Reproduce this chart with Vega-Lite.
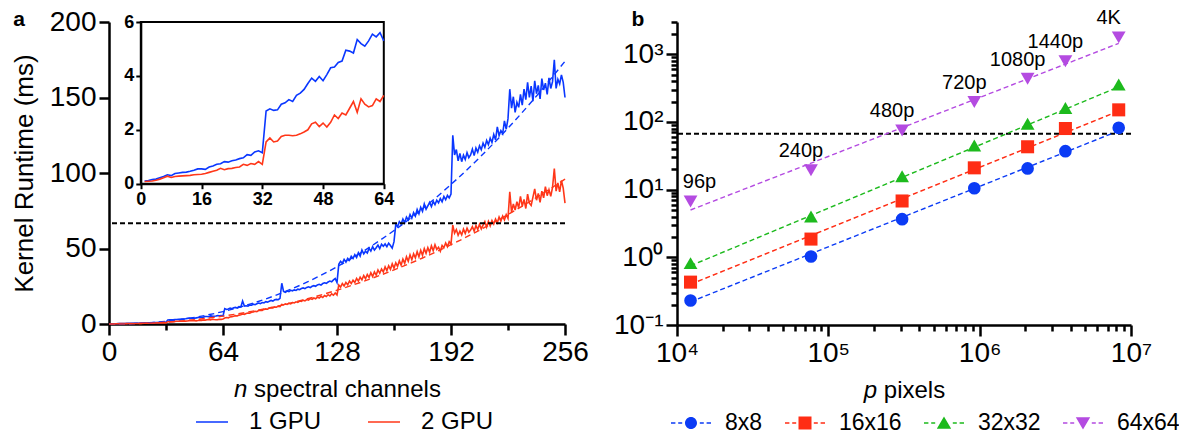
{
  "$schema": "https://vega.github.io/schema/vega-lite/v6.json",
  "padding": {"left": 11, "top": 8, "right": 0, "bottom": 0},
  "config": {
    "font": "Liberation Sans",
    "view": {"stroke": null},
    "axis": {"grid": false, "domainColor": "#000", "tickColor": "#000", "labelColor": "#000", "titleColor": "#000", "titleFontWeight": "normal", "labelFlush": false, "labelOverlap": false},
    "legend": {"labelColor": "#000"},
    "title": {"color": "#000"}
  },
  "datasets": {
    "spectral": [
      {"n":1,"1 GPU":0.10,"2 GPU":0.08},{"n":2,"1 GPU":0.12,"2 GPU":0.09},{"n":3,"1 GPU":0.15,"2 GPU":0.10},{"n":4,"1 GPU":0.17,"2 GPU":0.13},
      {"n":5,"1 GPU":0.22,"2 GPU":0.17},{"n":6,"1 GPU":0.27,"2 GPU":0.22},{"n":7,"1 GPU":0.33,"2 GPU":0.28},{"n":8,"1 GPU":0.30,"2 GPU":0.23},
      {"n":9,"1 GPU":0.38,"2 GPU":0.27},{"n":10,"1 GPU":0.40,"2 GPU":0.28},{"n":11,"1 GPU":0.42,"2 GPU":0.29},{"n":12,"1 GPU":0.43,"2 GPU":0.30},
      {"n":13,"1 GPU":0.46,"2 GPU":0.31},{"n":14,"1 GPU":0.50,"2 GPU":0.33},{"n":15,"1 GPU":0.55,"2 GPU":0.34},{"n":16,"1 GPU":0.55,"2 GPU":0.35},
      {"n":17,"1 GPU":0.53,"2 GPU":0.38},{"n":18,"1 GPU":0.62,"2 GPU":0.42},{"n":19,"1 GPU":0.66,"2 GPU":0.46},{"n":20,"1 GPU":0.72,"2 GPU":0.50},
      {"n":21,"1 GPU":0.74,"2 GPU":0.57},{"n":22,"1 GPU":0.82,"2 GPU":0.52},{"n":23,"1 GPU":0.80,"2 GPU":0.56},{"n":24,"1 GPU":0.85,"2 GPU":0.57},
      {"n":25,"1 GPU":0.88,"2 GPU":0.60},{"n":26,"1 GPU":0.93,"2 GPU":0.62},{"n":27,"1 GPU":0.96,"2 GPU":0.72},{"n":28,"1 GPU":1.08,"2 GPU":0.68},
      {"n":29,"1 GPU":1.05,"2 GPU":0.75},{"n":30,"1 GPU":1.18,"2 GPU":0.72},{"n":31,"1 GPU":1.22,"2 GPU":0.82},{"n":32,"1 GPU":1.15,"2 GPU":0.72},
      {"n":33,"1 GPU":2.70,"2 GPU":1.55},{"n":34,"1 GPU":2.78,"2 GPU":1.70},{"n":35,"1 GPU":2.72,"2 GPU":1.55},{"n":36,"1 GPU":2.74,"2 GPU":1.58},
      {"n":37,"1 GPU":2.95,"2 GPU":1.75},{"n":38,"1 GPU":3.00,"2 GPU":1.80},{"n":39,"1 GPU":3.12,"2 GPU":1.80},{"n":40,"1 GPU":3.05,"2 GPU":1.78},
      {"n":41,"1 GPU":3.28,"2 GPU":1.80},{"n":42,"1 GPU":3.36,"2 GPU":1.85},{"n":43,"1 GPU":3.50,"2 GPU":1.92},{"n":44,"1 GPU":3.72,"2 GPU":2.00},
      {"n":45,"1 GPU":3.92,"2 GPU":2.22},{"n":46,"1 GPU":3.80,"2 GPU":2.28},{"n":47,"1 GPU":3.98,"2 GPU":2.12},{"n":48,"1 GPU":3.82,"2 GPU":2.25},
      {"n":49,"1 GPU":4.05,"2 GPU":2.10},{"n":50,"1 GPU":4.30,"2 GPU":2.28},{"n":51,"1 GPU":4.33,"2 GPU":2.55},{"n":52,"1 GPU":4.50,"2 GPU":2.42},
      {"n":53,"1 GPU":4.55,"2 GPU":2.62},{"n":54,"1 GPU":4.95,"2 GPU":2.55},{"n":55,"1 GPU":4.92,"2 GPU":2.80},{"n":56,"1 GPU":4.85,"2 GPU":3.05},
      {"n":57,"1 GPU":5.35,"2 GPU":2.65},{"n":58,"1 GPU":5.20,"2 GPU":3.15},{"n":59,"1 GPU":5.10,"2 GPU":2.95},{"n":60,"1 GPU":5.30,"2 GPU":2.85},
      {"n":61,"1 GPU":5.55,"2 GPU":2.90},{"n":62,"1 GPU":5.45,"2 GPU":3.15},{"n":63,"1 GPU":5.60,"2 GPU":3.05},{"n":64,"1 GPU":5.30,"2 GPU":3.28},
      {"n":65,"1 GPU":10.2,"2 GPU":4.0},{"n":66,"1 GPU":9.6,"2 GPU":4.3},{"n":67,"1 GPU":9.9,"2 GPU":4.1},{"n":68,"1 GPU":10.5,"2 GPU":4.7},
      {"n":69,"1 GPU":10.1,"2 GPU":4.9},{"n":70,"1 GPU":10.8,"2 GPU":5.1},{"n":71,"1 GPU":11.0,"2 GPU":5.5},{"n":72,"1 GPU":10.6,"2 GPU":5.3},
      {"n":73,"1 GPU":11.5,"2 GPU":5.9},{"n":74,"1 GPU":11.2,"2 GPU":6.1},{"n":75,"1 GPU":15.2,"2 GPU":6.6},{"n":76,"1 GPU":11.9,"2 GPU":6.4},
      {"n":77,"1 GPU":12.1,"2 GPU":7.0},{"n":78,"1 GPU":11.8,"2 GPU":7.3},{"n":79,"1 GPU":12.6,"2 GPU":7.1},{"n":80,"1 GPU":12.4,"2 GPU":7.8},
      {"n":81,"1 GPU":13.1,"2 GPU":8.0},{"n":82,"1 GPU":12.8,"2 GPU":8.4},{"n":83,"1 GPU":13.4,"2 GPU":8.2},{"n":84,"1 GPU":13.9,"2 GPU":8.9},
      {"n":85,"1 GPU":13.5,"2 GPU":9.2},{"n":86,"1 GPU":14.2,"2 GPU":9.0},{"n":87,"1 GPU":14.0,"2 GPU":9.7},{"n":88,"1 GPU":14.8,"2 GPU":10.0},
      {"n":89,"1 GPU":14.5,"2 GPU":9.8},{"n":90,"1 GPU":15.1,"2 GPU":10.5},{"n":91,"1 GPU":15.6,"2 GPU":10.8},{"n":92,"1 GPU":15.2,"2 GPU":10.6},
      {"n":93,"1 GPU":16.0,"2 GPU":11.3},{"n":94,"1 GPU":16.3,"2 GPU":11.1},{"n":95,"1 GPU":16.1,"2 GPU":11.8},{"n":96,"1 GPU":17.0,"2 GPU":11.5},
      {"n":97,"1 GPU":27.0,"2 GPU":13.0},{"n":98,"1 GPU":21.5,"2 GPU":12.6},{"n":99,"1 GPU":21.0,"2 GPU":13.3},{"n":100,"1 GPU":21.8,"2 GPU":13.0},
      {"n":101,"1 GPU":21.4,"2 GPU":13.8},{"n":102,"1 GPU":22.3,"2 GPU":13.4},{"n":103,"1 GPU":22.0,"2 GPU":14.2},{"n":104,"1 GPU":22.6,"2 GPU":13.9},
      {"n":105,"1 GPU":22.2,"2 GPU":14.7},{"n":106,"1 GPU":23.1,"2 GPU":14.3},{"n":107,"1 GPU":22.8,"2 GPU":15.2},{"n":108,"1 GPU":23.5,"2 GPU":14.9},
      {"n":109,"1 GPU":23.9,"2 GPU":15.8},{"n":110,"1 GPU":23.4,"2 GPU":15.3},{"n":111,"1 GPU":24.2,"2 GPU":16.2},{"n":112,"1 GPU":24.6,"2 GPU":15.8},
      {"n":113,"1 GPU":24.1,"2 GPU":16.8},{"n":114,"1 GPU":25.0,"2 GPU":16.3},{"n":115,"1 GPU":25.4,"2 GPU":17.2},{"n":116,"1 GPU":25.0,"2 GPU":16.7},
      {"n":117,"1 GPU":25.9,"2 GPU":17.8},{"n":118,"1 GPU":26.3,"2 GPU":17.2},{"n":119,"1 GPU":25.8,"2 GPU":18.3},{"n":120,"1 GPU":26.8,"2 GPU":17.6},
      {"n":121,"1 GPU":27.3,"2 GPU":18.9},{"n":122,"1 GPU":26.9,"2 GPU":18.2},{"n":123,"1 GPU":27.8,"2 GPU":19.4},{"n":124,"1 GPU":28.4,"2 GPU":18.6},
      {"n":125,"1 GPU":28.0,"2 GPU":20.0},{"n":126,"1 GPU":29.2,"2 GPU":19.1},{"n":127,"1 GPU":30.1,"2 GPU":20.5},{"n":128,"1 GPU":27.5,"2 GPU":19.2},
      {"n":129,"1 GPU":39.5,"2 GPU":25.8},{"n":130,"1 GPU":41.5,"2 GPU":24.5},{"n":131,"1 GPU":40.2,"2 GPU":26.8},{"n":132,"1 GPU":42.8,"2 GPU":25.2},
      {"n":133,"1 GPU":41.0,"2 GPU":27.5},{"n":134,"1 GPU":43.5,"2 GPU":26.0},{"n":135,"1 GPU":42.2,"2 GPU":28.4},{"n":136,"1 GPU":44.8,"2 GPU":26.8},
      {"n":137,"1 GPU":43.4,"2 GPU":29.0},{"n":138,"1 GPU":45.9,"2 GPU":27.5},{"n":139,"1 GPU":44.1,"2 GPU":30.2},{"n":140,"1 GPU":47.2,"2 GPU":28.4},
      {"n":141,"1 GPU":45.0,"2 GPU":31.0},{"n":142,"1 GPU":49.0,"2 GPU":29.2},{"n":143,"1 GPU":46.5,"2 GPU":32.1},{"n":144,"1 GPU":48.2,"2 GPU":30.0},
      {"n":145,"1 GPU":47.0,"2 GPU":32.8},{"n":146,"1 GPU":50.1,"2 GPU":30.8},{"n":147,"1 GPU":48.3,"2 GPU":33.9},{"n":148,"1 GPU":51.2,"2 GPU":31.5},
      {"n":149,"1 GPU":49.0,"2 GPU":34.5},{"n":150,"1 GPU":50.5,"2 GPU":32.4},{"n":151,"1 GPU":52.3,"2 GPU":35.8},{"n":152,"1 GPU":50.0,"2 GPU":33.6},
      {"n":153,"1 GPU":52.8,"2 GPU":36.4},{"n":154,"1 GPU":51.5,"2 GPU":34.5},{"n":155,"1 GPU":53.0,"2 GPU":37.8},{"n":156,"1 GPU":51.2,"2 GPU":35.3},
      {"n":157,"1 GPU":53.5,"2 GPU":38.6},{"n":158,"1 GPU":52.0,"2 GPU":36.2},{"n":159,"1 GPU":50.2,"2 GPU":39.8},{"n":160,"1 GPU":54.5,"2 GPU":37.0},
      {"n":161,"1 GPU":66.0,"2 GPU":40.5},{"n":162,"1 GPU":64.5,"2 GPU":38.2},{"n":163,"1 GPU":67.8,"2 GPU":41.8},{"n":164,"1 GPU":66.2,"2 GPU":39.0},
      {"n":165,"1 GPU":69.5,"2 GPU":43.0},{"n":166,"1 GPU":67.0,"2 GPU":40.2},{"n":167,"1 GPU":70.8,"2 GPU":44.5},{"n":168,"1 GPU":68.9,"2 GPU":41.5},
      {"n":169,"1 GPU":72.5,"2 GPU":45.8},{"n":170,"1 GPU":70.1,"2 GPU":42.6},{"n":171,"1 GPU":73.8,"2 GPU":46.5},{"n":172,"1 GPU":71.5,"2 GPU":43.8},
      {"n":173,"1 GPU":75.9,"2 GPU":47.9},{"n":174,"1 GPU":73.0,"2 GPU":44.5},{"n":175,"1 GPU":77.2,"2 GPU":48.8},{"n":176,"1 GPU":74.6,"2 GPU":45.5},
      {"n":177,"1 GPU":79.5,"2 GPU":49.9},{"n":178,"1 GPU":76.0,"2 GPU":46.8},{"n":179,"1 GPU":78.3,"2 GPU":50.6},{"n":180,"1 GPU":80.5,"2 GPU":47.5},
      {"n":181,"1 GPU":77.8,"2 GPU":51.8},{"n":182,"1 GPU":81.2,"2 GPU":48.6},{"n":183,"1 GPU":79.0,"2 GPU":52.5},{"n":184,"1 GPU":82.0,"2 GPU":49.4},
      {"n":185,"1 GPU":80.2,"2 GPU":50.8},{"n":186,"1 GPU":83.1,"2 GPU":48.2},{"n":187,"1 GPU":81.0,"2 GPU":52.0},{"n":188,"1 GPU":84.5,"2 GPU":50.5},
      {"n":189,"1 GPU":82.3,"2 GPU":53.6},{"n":190,"1 GPU":85.2,"2 GPU":51.2},{"n":191,"1 GPU":83.5,"2 GPU":54.5},{"n":192,"1 GPU":86.0,"2 GPU":53.0},
      {"n":193,"1 GPU":125.0,"2 GPU":65.5},{"n":194,"1 GPU":112.0,"2 GPU":60.2},{"n":195,"1 GPU":115.5,"2 GPU":62.5},{"n":196,"1 GPU":108.0,"2 GPU":58.8},
      {"n":197,"1 GPU":113.0,"2 GPU":61.5},{"n":198,"1 GPU":107.5,"2 GPU":59.0},{"n":199,"1 GPU":111.8,"2 GPU":62.8},{"n":200,"1 GPU":109.0,"2 GPU":60.0},
      {"n":201,"1 GPU":113.5,"2 GPU":63.5},{"n":202,"1 GPU":110.2,"2 GPU":60.8},{"n":203,"1 GPU":112.0,"2 GPU":62.2},{"n":204,"1 GPU":115.8,"2 GPU":64.5},
      {"n":205,"1 GPU":111.5,"2 GPU":61.5},{"n":206,"1 GPU":116.5,"2 GPU":65.2},{"n":207,"1 GPU":113.8,"2 GPU":62.5},{"n":208,"1 GPU":118.0,"2 GPU":66.0},
      {"n":209,"1 GPU":115.5,"2 GPU":63.0},{"n":210,"1 GPU":119.8,"2 GPU":65.5},{"n":211,"1 GPU":117.0,"2 GPU":67.8},{"n":212,"1 GPU":121.5,"2 GPU":64.2},
      {"n":213,"1 GPU":118.8,"2 GPU":68.0},{"n":214,"1 GPU":123.0,"2 GPU":65.0},{"n":215,"1 GPU":120.2,"2 GPU":68.5},{"n":216,"1 GPU":125.5,"2 GPU":66.2},
      {"n":217,"1 GPU":122.0,"2 GPU":69.5},{"n":218,"1 GPU":130.5,"2 GPU":67.0},{"n":219,"1 GPU":124.8,"2 GPU":70.8},{"n":220,"1 GPU":128.0,"2 GPU":68.2},
      {"n":221,"1 GPU":126.0,"2 GPU":71.5},{"n":222,"1 GPU":134.5,"2 GPU":69.0},{"n":223,"1 GPU":129.0,"2 GPU":72.5},{"n":224,"1 GPU":136.0,"2 GPU":70.0},
      {"n":225,"1 GPU":155.5,"2 GPU":87.5},{"n":226,"1 GPU":143.0,"2 GPU":74.0},{"n":227,"1 GPU":150.5,"2 GPU":79.5},{"n":228,"1 GPU":140.2,"2 GPU":75.5},
      {"n":229,"1 GPU":146.8,"2 GPU":81.0},{"n":230,"1 GPU":143.5,"2 GPU":77.0},{"n":231,"1 GPU":152.0,"2 GPU":84.5},{"n":232,"1 GPU":145.0,"2 GPU":78.0},
      {"n":233,"1 GPU":155.5,"2 GPU":82.5},{"n":234,"1 GPU":148.6,"2 GPU":76.5},{"n":235,"1 GPU":160.0,"2 GPU":86.0},{"n":236,"1 GPU":150.0,"2 GPU":80.0},
      {"n":237,"1 GPU":157.5,"2 GPU":78.5},{"n":238,"1 GPU":147.5,"2 GPU":84.0},{"n":239,"1 GPU":161.0,"2 GPU":89.5},{"n":240,"1 GPU":152.5,"2 GPU":82.0},
      {"n":241,"1 GPU":158.0,"2 GPU":86.5},{"n":242,"1 GPU":149.0,"2 GPU":80.5},{"n":243,"1 GPU":162.5,"2 GPU":88.0},{"n":244,"1 GPU":155.0,"2 GPU":83.5},
      {"n":245,"1 GPU":159.5,"2 GPU":91.0},{"n":246,"1 GPU":152.0,"2 GPU":85.0},{"n":247,"1 GPU":163.0,"2 GPU":89.0},{"n":248,"1 GPU":156.0,"2 GPU":84.5},
      {"n":249,"1 GPU":160.5,"2 GPU":90.5},{"n":250,"1 GPU":175.0,"2 GPU":103.0},{"n":251,"1 GPU":156.0,"2 GPU":88.0},{"n":252,"1 GPU":162.0,"2 GPU":93.5},
      {"n":253,"1 GPU":159.0,"2 GPU":87.5},{"n":254,"1 GPU":165.0,"2 GPU":95.0},{"n":255,"1 GPU":160.0,"2 GPU":90.0},{"n":256,"1 GPU":150.0,"2 GPU":80.0}
    ],
    "spectralFit": [
      {"n":0,"1 GPU":0,"2 GPU":0},{"n":16,"1 GPU":0.39,"2 GPU":0.28},{"n":32,"1 GPU":1.79,"2 GPU":1.22},{"n":48,"1 GPU":4.38,"2 GPU":2.85},
      {"n":64,"1 GPU":8.24,"2 GPU":5.22},{"n":80,"1 GPU":13.47,"2 GPU":8.34},{"n":96,"1 GPU":20.1,"2 GPU":12.2},{"n":112,"1 GPU":28.2,"2 GPU":16.9},
      {"n":128,"1 GPU":37.9,"2 GPU":22.4},{"n":144,"1 GPU":49.1,"2 GPU":28.7},{"n":160,"1 GPU":61.9,"2 GPU":35.8},{"n":176,"1 GPU":76.3,"2 GPU":43.7},
      {"n":192,"1 GPU":92.4,"2 GPU":52.5},{"n":208,"1 GPU":110.2,"2 GPU":62.1},{"n":224,"1 GPU":129.7,"2 GPU":72.5},{"n":240,"1 GPU":151.0,"2 GPU":83.8},
      {"n":256,"1 GPU":174.0,"2 GPU":96.0}
    ],
    "pixels": [
      {"p":12288,"res":"96p","block":"8x8","ms":0.23},{"p":76800,"res":"240p","block":"8x8","ms":1.03},{"p":307200,"res":"480p","block":"8x8","ms":3.66},
      {"p":921600,"res":"720p","block":"8x8","ms":10.5},{"p":2073600,"res":"1080p","block":"8x8","ms":20.6},{"p":3686400,"res":"1440p","block":"8x8","ms":37},
      {"p":8294400,"res":"4K","block":"8x8","ms":82},
      {"p":12288,"res":"96p","block":"16x16","ms":0.43},{"p":76800,"res":"240p","block":"16x16","ms":1.86},{"p":307200,"res":"480p","block":"16x16","ms":6.8},
      {"p":921600,"res":"720p","block":"16x16","ms":21},{"p":2073600,"res":"1080p","block":"16x16","ms":43},{"p":3686400,"res":"1440p","block":"16x16","ms":80},
      {"p":8294400,"res":"4K","block":"16x16","ms":151},
      {"p":12288,"res":"96p","block":"32x32","ms":0.82},{"p":76800,"res":"240p","block":"32x32","ms":4.0},{"p":307200,"res":"480p","block":"32x32","ms":15.8},
      {"p":921600,"res":"720p","block":"32x32","ms":45},{"p":2073600,"res":"1080p","block":"32x32","ms":94},{"p":3686400,"res":"1440p","block":"32x32","ms":161},
      {"p":8294400,"res":"4K","block":"32x32","ms":357},
      {"p":12288,"res":"96p","block":"64x64","ms":6.7},{"p":76800,"res":"240p","block":"64x64","ms":19.4},{"p":307200,"res":"480p","block":"64x64","ms":75},
      {"p":921600,"res":"720p","block":"64x64","ms":197},{"p":2073600,"res":"1080p","block":"64x64","ms":434},{"p":3686400,"res":"1440p","block":"64x64","ms":789},
      {"p":8294400,"res":"4K","block":"64x64","ms":1778}
    ],
    "pixelsFit": [
      {"p":12288,"block":"8x8","ms":0.22},{"p":8294400,"block":"8x8","ms":74},
      {"p":12288,"block":"16x16","ms":0.40},{"p":8294400,"block":"16x16","ms":145},
      {"p":12288,"block":"32x32","ms":0.75},{"p":8294400,"block":"32x32","ms":330},
      {"p":12288,"block":"64x64","ms":5.0},{"p":8294400,"block":"64x64","ms":1450}
    ]
  },
  "hconcat": [
    {
      "width": 456,
      "height": 302,
      "title": {"text": "a", "anchor": "start", "fontSize": 21, "fontWeight": "bold", "offset": -22, "dx": 2},
      "layer": [
        {
          "layer": [
            {
              "data": {"name": "spectral"},
              "transform": [{"fold": ["1 GPU", "2 GPU"], "as": ["series", "ms"]}],
              "mark": {"type": "line", "strokeWidth": 1.6},
              "encoding": {
                "x": {
                  "field": "n", "type": "quantitative",
                  "scale": {"domain": [0, 256], "nice": false, "zero": false},
                  "axis": {
                    "orient": "bottom",
                    "values": [0, 32, 64, 96, 128, 160, 192, 224, 256],
                    "labelExpr": "datum.value % 64 === 0 ? datum.label : ''",
                    "tickSize": {"condition": {"test": "datum.value % 64 === 0", "value": 11}, "value": 6},
                    "tickWidth": 2.5, "domainWidth": 2.5,
                    "labelFontSize": 28, "labelPadding": 3,
                    "title": "n", "titleFontStyle": "italic", "titleFontSize": 24,
                    "titleX": 124.6, "titleY": 72, "titleAlign": "left", "titleBaseline": "alphabetic"
                  }
                },
                "y": {
                  "field": "ms", "type": "quantitative",
                  "scale": {"domain": [0, 200], "nice": false},
                  "axis": {
                    "orient": "left", "values": [0, 50, 100, 150, 200],
                    "tickSize": 10, "tickWidth": 2.5, "domainWidth": 2.5,
                    "labelFontSize": 28, "labelPadding": 3,
                    "title": "Kernel Runtime (ms)", "titleFontSize": 26, "titlePadding": 12
                  }
                },
                "color": {
                  "field": "series", "type": "nominal",
                  "scale": {"domain": ["1 GPU", "2 GPU"], "range": ["#0A37FF", "#FF3719"]},
                  "legend": {
                    "orient": "none", "legendX": 86, "legendY": 383, "direction": "horizontal", "title": null,
                    "symbolType": "stroke", "symbolSize": 1024, "symbolStrokeWidth": 1.5,
                    "labelFontSize": 24, "labelOffset": 20, "columnPadding": 43
                  }
                }
              }
            },
            {
              "data": {"name": "spectralFit"},
              "transform": [{"fold": ["1 GPU", "2 GPU"], "as": ["series", "ms"]}],
              "mark": {"type": "line", "strokeWidth": 1.4, "strokeDash": [6, 4], "interpolate": "monotone"},
              "encoding": {
                "x": {
                  "field": "n", "type": "quantitative",
                  "axis": {
                    "orient": "bottom", "domain": false, "ticks": false, "labels": false,
                    "title": "spectral channels", "titleFontSize": 24,
                    "titleX": 238, "titleY": 72, "titleAlign": "center", "titleBaseline": "alphabetic"
                  }
                },
                "y": {"field": "ms", "type": "quantitative", "axis": null},
                "color": {"field": "series", "type": "nominal", "legend": null}
              }
            },
            {
              "data": {"values": [{}]},
              "mark": {"type": "rule", "strokeWidth": 2, "strokeDash": [5, 3], "color": "#000"},
              "encoding": {"y": {"datum": 66.7, "type": "quantitative", "axis": null}}
            }
          ],
          "resolve": {"axis": {"x": "independent", "y": "independent"}}
        },
        {
          "layer": [
            {
              "data": {"values": [{}]},
              "mark": {"type": "rect", "filled": false, "stroke": "#000", "strokeWidth": 2},
              "encoding": {
                "x": {"datum": 0, "type": "quantitative", "axis": null},
                "x2": {"datum": 64},
                "y": {"datum": 0, "type": "quantitative", "axis": null},
                "y2": {"datum": 6}
              }
            },
            {
              "data": {"name": "spectral"},
              "transform": [{"filter": "datum.n <= 64"}, {"fold": ["1 GPU", "2 GPU"], "as": ["series", "ms"]}],
              "mark": {"type": "line", "strokeWidth": 1.6},
              "encoding": {
                "x": {
                  "field": "n", "type": "quantitative",
                  "scale": {"domain": [0, 64], "range": [31.8, 274.8], "nice": false, "zero": false},
                  "axis": {
                    "orient": "bottom", "offset": -140.3, "values": [0, 16, 32, 48, 64],
                    "tickSize": 5, "tickWidth": 2, "domainWidth": 2,
                    "labelFontSize": 18, "labelFontWeight": "bold", "labelPadding": 2,
                    "title": null, "zindex": 1
                  }
                },
                "y": {
                  "field": "ms", "type": "quantitative",
                  "scale": {"domain": [0, 6], "range": [161.7, 0], "nice": false},
                  "axis": {
                    "orient": "left", "offset": -31.8, "values": [0, 2, 4, 6],
                    "tickSize": 5, "tickWidth": 2, "domainWidth": 2,
                    "labelFontSize": 18, "labelFontWeight": "bold", "labelPadding": 2,
                    "title": null, "zindex": 1
                  }
                },
                "color": {"field": "series", "type": "nominal", "legend": null}
              }
            }
          ],
          "resolve": {"axis": {"x": "independent", "y": "independent"}}
        }
      ],
      "resolve": {"scale": {"x": "independent", "y": "independent"}}
    },
    {
      "width": 454,
      "height": 303,
      "title": {"text": "b", "anchor": "start", "fontSize": 21, "fontWeight": "bold", "offset": -22, "dx": 18},
      "layer": [
        {
          "data": {"name": "pixels"},
          "transform": [{"filter": "false"}],
          "mark": {"type": "point", "filled": true, "opacity": 1},
          "encoding": {
            "x": {
              "field": "p", "type": "quantitative",
              "scale": {"type": "log", "domain": [10000, 10000000], "nice": false},
              "axis": {
                "orient": "bottom",
                "values": [10000, 20000, 30000, 40000, 50000, 60000, 70000, 80000, 90000, 100000, 200000, 300000, 400000, 500000, 600000, 700000, 800000, 900000, 1000000, 2000000, 3000000, 4000000, 5000000, 6000000, 7000000, 8000000, 9000000, 10000000],
                "labelExpr": "abs(log(datum.value)/LN10 - round(log(datum.value)/LN10)) < 0.000001 ? '10' + (datum.value < 50000 ? '⁴' : datum.value < 500000 ? '⁵' : datum.value < 5000000 ? '⁶' : '⁷') : ''",
                "tickSize": {"condition": {"test": "abs(log(datum.value)/LN10 - round(log(datum.value)/LN10)) < 0.000001", "value": 11}, "value": 6},
                "tickWidth": 2.5, "domainWidth": 2.5,
                "labelFontSize": 28, "labelPadding": 3,
                "title": "p", "titleFontStyle": "italic", "titleFontSize": 24,
                "titleX": 186.3, "titleY": 72, "titleAlign": "left", "titleBaseline": "alphabetic"
              }
            },
            "y": {
              "field": "ms", "type": "quantitative",
              "scale": {"type": "log", "domain": [0.1, 3000], "nice": false},
              "axis": {
                "orient": "left",
                "values": [0.1, 0.2, 0.3, 0.4, 0.5, 0.6, 0.7, 0.8, 0.9, 1, 2, 3, 4, 5, 6, 7, 8, 9, 10, 20, 30, 40, 50, 60, 70, 80, 90, 100, 200, 300, 400, 500, 600, 700, 800, 900, 1000, 2000, 3000],
                "labelExpr": "abs(log(datum.value)/LN10 - round(log(datum.value)/LN10)) < 0.000001 ? '10' + (datum.value < 0.5 ? '⁻¹' : datum.value < 5 ? '⁰' : datum.value < 50 ? '¹' : datum.value < 500 ? '²' : '³') : ''",
                "tickSize": {"condition": {"test": "abs(log(datum.value)/LN10 - round(log(datum.value)/LN10)) < 0.000001", "value": 11}, "value": 6},
                "tickWidth": 2.5, "domainWidth": 2.5,
                "labelFontSize": 28, "labelPadding": 3,
                "title": null
              }
            },
            "color": {
              "field": "block", "type": "nominal",
              "scale": {"domain": ["8x8", "16x16", "32x32", "64x64"], "range": ["#0B3BF5", "#FF2D14", "#1DBA1D", "#B44BE1"]},
              "legend": {
                "orient": "none", "legendX": -6, "legendY": 381, "direction": "horizontal", "title": null,
                "symbolSize": 1600, "symbolStrokeWidth": 0,
                "labelFontSize": 23, "labelOffset": 14, "columnPadding": 22
              }
            },
            "shape": {
              "field": "block", "type": "nominal",
              "scale": {
                "domain": ["8x8", "16x16", "32x32", "64x64"],
                "range": [
                  "M-1,-0.04H-0.78V0.04H-1Z M-0.64,-0.04H-0.44V0.04H-0.64Z M0.44,-0.04H0.64V0.04H0.44Z M0.78,-0.04H1V0.04H0.78Z M0.3,0A0.3,0.3,0,1,1,-0.3,0A0.3,0.3,0,1,1,0.3,0Z",
                  "M-1,-0.04H-0.78V0.04H-1Z M-0.64,-0.04H-0.44V0.04H-0.64Z M0.44,-0.04H0.64V0.04H0.44Z M0.78,-0.04H1V0.04H0.78Z M-0.325,-0.325H0.325V0.325H-0.325Z",
                  "M-1,-0.04H-0.78V0.04H-1Z M-0.64,-0.04H-0.44V0.04H-0.64Z M0.44,-0.04H0.64V0.04H0.44Z M0.78,-0.04H1V0.04H0.78Z M0,-0.33L0.36,0.29L-0.36,0.29Z",
                  "M-1,-0.04H-0.78V0.04H-1Z M-0.64,-0.04H-0.44V0.04H-0.64Z M0.44,-0.04H0.64V0.04H0.44Z M0.78,-0.04H1V0.04H0.78Z M0,0.33L0.36,-0.29L-0.36,-0.29Z"
                ]
              },
              "legend": {
                "orient": "none", "legendX": -6, "legendY": 381, "direction": "horizontal", "title": null,
                "symbolSize": 1600, "symbolStrokeWidth": 0,
                "labelFontSize": 23, "labelOffset": 14, "columnPadding": 22
              }
            }
          }
        },
        {
          "data": {"values": [{}]},
          "mark": {"type": "rule", "strokeWidth": 2, "strokeDash": [5, 3], "color": "#000"},
          "encoding": {"y": {"datum": 66.7, "type": "quantitative", "axis": null}}
        },
        {
          "data": {"name": "pixelsFit"},
          "mark": {"type": "line", "strokeWidth": 1.4, "strokeDash": [5, 3]},
          "encoding": {
            "x": {
              "field": "p", "type": "quantitative",
              "axis": {
                "orient": "bottom", "domain": false, "ticks": false, "labels": false,
                "title": "pixels", "titleFontSize": 24,
                "titleX": 237, "titleY": 72, "titleAlign": "center", "titleBaseline": "alphabetic"
              }
            },
            "y": {"field": "ms", "type": "quantitative", "axis": null},
            "color": {"field": "block", "type": "nominal", "legend": null}
          }
        },
        {
          "data": {"name": "pixels"},
          "transform": [{"filter": "datum.block === '8x8'"}],
          "mark": {"type": "point", "shape": "circle", "filled": true, "opacity": 1, "size": 160},
          "encoding": {
            "x": {"field": "p", "type": "quantitative", "axis": null},
            "y": {"field": "ms", "type": "quantitative", "axis": null},
            "color": {"field": "block", "type": "nominal", "legend": null}
          }
        },
        {
          "data": {"name": "pixels"},
          "transform": [{"filter": "datum.block === '16x16'"}],
          "mark": {"type": "point", "shape": "square", "filled": true, "opacity": 1, "size": 170},
          "encoding": {
            "x": {"field": "p", "type": "quantitative", "axis": null},
            "y": {"field": "ms", "type": "quantitative", "axis": null},
            "color": {"field": "block", "type": "nominal", "legend": null}
          }
        },
        {
          "data": {"name": "pixels"},
          "transform": [{"filter": "datum.block === '32x32'"}],
          "mark": {"type": "point", "shape": "triangle-up", "filled": true, "opacity": 1, "size": 190},
          "encoding": {
            "x": {"field": "p", "type": "quantitative", "axis": null},
            "y": {"field": "ms", "type": "quantitative", "axis": null},
            "color": {"field": "block", "type": "nominal", "legend": null}
          }
        },
        {
          "data": {"name": "pixels"},
          "transform": [{"filter": "datum.block === '64x64'"}],
          "mark": {"type": "point", "shape": "triangle-down", "filled": true, "opacity": 1, "size": 190},
          "encoding": {
            "x": {"field": "p", "type": "quantitative", "axis": null},
            "y": {"field": "ms", "type": "quantitative", "axis": null},
            "color": {"field": "block", "type": "nominal", "legend": null}
          }
        },
        {
          "data": {"name": "pixels"},
          "transform": [{"filter": "datum.block === '64x64' && datum.res !== '96p'"}],
          "mark": {"type": "text", "fontSize": 20, "dy": -19, "dx": -10, "align": "center", "baseline": "middle", "color": "#000"},
          "encoding": {
            "x": {"field": "p", "type": "quantitative", "axis": null},
            "y": {"field": "ms", "type": "quantitative", "axis": null},
            "text": {"field": "res", "type": "nominal"}
          }
        },
        {
          "data": {"name": "pixels"},
          "transform": [{"filter": "datum.block === '64x64' && datum.res === '96p'"}],
          "mark": {"type": "text", "fontSize": 20, "dy": -19, "dx": 9, "align": "center", "baseline": "middle", "color": "#000"},
          "encoding": {
            "x": {"field": "p", "type": "quantitative", "axis": null},
            "y": {"field": "ms", "type": "quantitative", "axis": null},
            "text": {"field": "res", "type": "nominal"}
          }
        }
      ],
      "resolve": {"axis": {"x": "independent", "y": "independent"}}
    }
  ],
  "spacing": 24,
  "resolve": {"scale": {"color": "independent", "shape": "independent"}, "legend": {"color": "independent", "shape": "independent"}}
}
